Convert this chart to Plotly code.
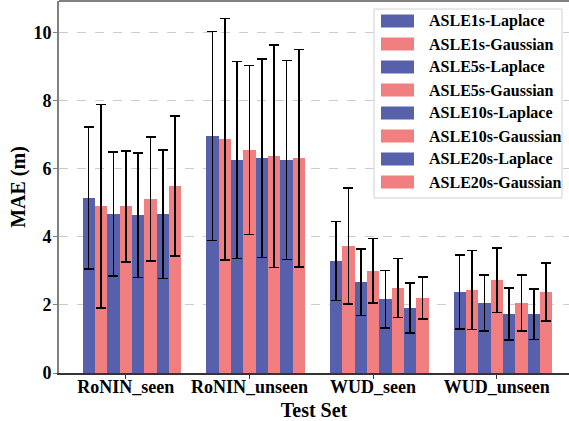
import plotly.graph_objects as go

categories = ["RoNIN_seen", "RoNIN_unseen", "WUD_seen", "WUD_unseen"]
series_names = ["ASLE1s-Laplace", "ASLE1s-Gaussian", "ASLE5s-Laplace", "ASLE5s-Gaussian",
                "ASLE10s-Laplace", "ASLE10s-Gaussian", "ASLE20s-Laplace", "ASLE20s-Gaussian"]

# mean MAE per series, per test set
asle1s_laplace = [5.14, 6.96, 3.29, 2.38]
asle1s_gaussian = [4.90, 6.87, 3.73, 2.44]
asle5s_laplace = [4.67, 6.26, 2.67, 2.06]
asle5s_gaussian = [4.90, 6.55, 3.00, 2.73]
asle10s_laplace = [4.64, 6.31, 2.17, 1.73]
asle10s_gaussian = [5.11, 6.37, 2.50, 2.06]
asle20s_laplace = [4.67, 6.26, 1.91, 1.73]
asle20s_gaussian = [5.49, 6.31, 2.20, 2.38]

# std (error bar half-length)
asle1s_laplace_err = [2.08, 3.07, 1.16, 1.08]
asle1s_gaussian_err = [2.99, 3.55, 1.70, 1.16]
asle5s_laplace_err = [1.82, 2.89, 0.98, 0.82]
asle5s_gaussian_err = [1.63, 2.48, 0.95, 0.95]
asle10s_laplace_err = [1.83, 2.92, 0.84, 0.76]
asle10s_gaussian_err = [1.82, 3.27, 0.87, 0.82]
asle20s_laplace_err = [1.89, 2.92, 0.73, 0.74]
asle20s_gaussian_err = [2.06, 3.20, 0.62, 0.86]

values = [asle1s_laplace, asle1s_gaussian, asle5s_laplace, asle5s_gaussian,
          asle10s_laplace, asle10s_gaussian, asle20s_laplace, asle20s_gaussian]
errors = [asle1s_laplace_err, asle1s_gaussian_err, asle5s_laplace_err, asle5s_gaussian_err,
          asle10s_laplace_err, asle10s_gaussian_err, asle20s_laplace_err, asle20s_gaussian_err]

BLUE = "#5660ab"
RED = "#f27f7f"
colors = [BLUE if i % 2 == 0 else RED for i in range(8)]
bar_w = 0.1
FONT = "Liberation Serif"

fig = go.Figure()
for i, (name, vals, errs) in enumerate(zip(series_names, values, errors)):
    xs = [k + (i - 3) * bar_w for k in range(len(categories))]
    fig.add_trace(go.Bar(
        x=xs, y=vals, width=bar_w, name=name,
        marker=dict(color=colors[i], line=dict(width=0)),
        error_y=dict(type="data", array=errs, visible=True, color="black",
                     thickness=1.6, width=5),
        showlegend=False, hoverinfo="skip",
    ))

# manual legend (matplotlib-style wide swatches)
px_w, px_h = 510.0, 372.0
lx0, ly0, lx1, ly1 = 374, 9, 562, 198
def px2x(px):
    return (px - 59) / px_w
def px2y(py):
    return (373 - py) / px_h
fig.add_shape(type="rect", xref="paper", yref="paper",
              x0=px2x(lx0), x1=px2x(lx1), y0=px2y(ly1), y1=px2y(ly0),
              line=dict(color="#d0d0d0", width=1), fillcolor="white", layer="above")
for j, name in enumerate(series_names):
    cy = 21 + 23.0 * j
    fig.add_shape(type="rect", xref="paper", yref="paper",
                  x0=px2x(381), x1=px2x(414), y0=px2y(cy + 6.5), y1=px2y(cy - 6.5),
                  line=dict(width=0), fillcolor=colors[j], layer="above")
    fig.add_annotation(xref="paper", yref="paper", x=px2x(427), y=px2y(cy),
                       xanchor="left", yanchor="middle", showarrow=False,
                       text="<b>%s</b>" % name,
                       font=dict(family=FONT, size=16, color="black"))

# top spine
fig.add_shape(type="line", xref="paper", yref="paper", x0=0, x1=1, y0=1, y1=1,
              line=dict(color="#808080", width=2), layer="above")

fig.update_layout(
    width=569, height=421,
    margin=dict(l=59, r=0, t=1, b=48),
    plot_bgcolor="white", paper_bgcolor="white",
    barmode="overlay", bargap=0,
    font=dict(family=FONT, color="black"),
    hovermode=False,
    xaxis=dict(
        range=[-0.54, 3.584], automargin=False,
        tickmode="array", tickvals=list(range(len(categories))),
        ticktext=["<b>%s</b>" % c for c in categories],
        tickfont=dict(family=FONT, size=18, color="black"),
        ticklabelstandoff=-7,
        showgrid=False, zeroline=False,
        showline=True, linecolor="#333333", linewidth=1.5,
        ticks="outside", ticklen=4, tickcolor="#333333", tickwidth=1,
        title=dict(text="<b>Test Set</b>", font=dict(family=FONT, size=20, color="black"),
                   standoff=9),
    ),
    yaxis=dict(
        range=[0, 10.93], automargin=False,
        tickvals=[0, 2, 4, 6, 8, 10],
        ticktext=["<b>%d</b>" % v for v in [0, 2, 4, 6, 8, 10]],
        tickfont=dict(family=FONT, size=18, color="black"),
        ticklabelstandoff=-2,
        showgrid=True, gridcolor="#cccccc", griddash="dash", gridwidth=1,
        zeroline=False,
        showline=True, linecolor="#808080", linewidth=2,
        ticks="outside", ticklen=4, tickcolor="#808080", tickwidth=1,
        title=dict(text="<b>MAE (m)</b>", font=dict(family=FONT, size=20, color="black"),
                   standoff=2),
    ),
)

fig.write_html("out.html", config={"displayModeBar": False},
               post_script="document.body.style.margin='0px';document.body.style.overflow='hidden';")
